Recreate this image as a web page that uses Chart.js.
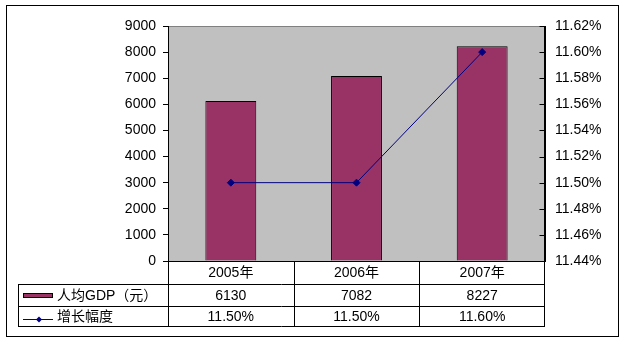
<!DOCTYPE html>
<html>
<head>
<meta charset="utf-8">
<script src="https://cdn.jsdelivr.net/npm/chart.js@4"></script>
<style>
  html, body { margin: 0; padding: 0; background: #fff; }
  #wrap { width: 625px; height: 343px; }
</style>
</head>
<body>
<div id="wrap"><canvas id="myChart" width="625" height="343"></canvas></div>
<script>
// per-capita GDP and its growth rate, 2005-2007
const years = ["2005年", "2006年", "2007年"];
const gdpValues = [6130, 7082, 8227];
const growthRates = [11.50, 11.50, 11.60];
const seriesNames = ["人均GDP（元）", "增长幅度"];

const FONT = "'Liberation Sans', 'Noto Sans CJK SC', sans-serif";
const FONT_SIZE = 14;
const barColor = "#993366";
const lineColor = "#000080";

// frame, grey plot area and the data table under the chart
const tablePlugin = {
    id: "tablePlugin",
    beforeDraw(chart) {
        const ctx = chart.ctx;
        const a = chart.chartArea;
        ctx.save();
        ctx.fillStyle = "#fff";
        ctx.fillRect(0, 0, chart.width, chart.height);
        ctx.strokeStyle = "#000";
        ctx.lineWidth = 1;
        ctx.strokeRect(6.5, 5.5, 612, 331);
        ctx.fillStyle = "#c0c0c0";
        ctx.fillRect(a.left, a.top, a.right - a.left, a.bottom - a.top);
        ctx.strokeStyle = "#808080";
        ctx.beginPath();
        ctx.moveTo(a.left, a.top + 0.5);
        ctx.lineTo(a.right, a.top + 0.5);
        ctx.stroke();
        ctx.restore();
    },
    afterDraw(chart) {
        const ctx = chart.ctx;
        const a = chart.chartArea;
        const xs = chart.scales.x;
        const y1 = chart.scales.y1;
        const colW = (a.right - a.left) / years.length;
        const rowTop = [Math.round(a.bottom), 284, 306];
        const rowBot = 326;
        const tableLeft = 18;
        const L = Math.round(a.left) + 0.5;
        const R = Math.round(a.right) - 0.5;

        ctx.save();
        ctx.strokeStyle = "#000";
        ctx.lineWidth = 1;

        // inner tick marks on the right axis
        y1.ticks.forEach((t) => {
            const py = Math.round(y1.getPixelForValue(t.value)) + 0.5;
            ctx.beginPath();
            ctx.moveTo(R - 5, py);
            ctx.lineTo(R, py);
            ctx.stroke();
        });

        ctx.beginPath();
        // horizontal rules
        ctx.moveTo(L, rowTop[0] + 0.5); ctx.lineTo(R, rowTop[0] + 0.5);
        ctx.moveTo(tableLeft + 0.5, rowTop[1] + 0.5); ctx.lineTo(R, rowTop[1] + 0.5);
        ctx.moveTo(tableLeft + 0.5, rowTop[2] + 0.5); ctx.lineTo(R, rowTop[2] + 0.5);
        ctx.moveTo(tableLeft + 0.5, rowBot + 0.5); ctx.lineTo(R, rowBot + 0.5);
        // verticals
        ctx.moveTo(tableLeft + 0.5, rowTop[1]); ctx.lineTo(tableLeft + 0.5, rowBot + 1);
        ctx.moveTo(L, a.bottom); ctx.lineTo(L, rowBot + 1);
        ctx.moveTo(R, a.top); ctx.lineTo(R, rowBot + 1);
        for (let i = 1; i < years.length; i++) {
            const vx = Math.round(a.left + colW * i) + 0.5;
            ctx.moveTo(vx, rowTop[0]); ctx.lineTo(vx, rowBot + 1);
        }
        ctx.stroke();

        // cell text
        ctx.fillStyle = "#000";
        ctx.font = FONT_SIZE + "px " + FONT;
        ctx.textAlign = "center";
        ctx.textBaseline = "middle";
        const rows = [
            years,
            gdpValues.map((v) => String(v)),
            growthRates.map((v) => v.toFixed(2) + "%")
        ];
        const mids = [(rowTop[0] + rowTop[1]) / 2 + 1, (rowTop[1] + rowTop[2]) / 2 + 1, (rowTop[2] + rowBot) / 2 + 1];
        rows.forEach((row, r) => {
            row.forEach((txt, i) => {
                ctx.fillText(txt, xs.getPixelForValue(i), mids[r]);
            });
        });

        // legend keys in the first column
        ctx.fillStyle = barColor;
        ctx.fillRect(23, 293, 30, 5);
        ctx.strokeStyle = "#000";
        ctx.strokeRect(23.5, 293.5, 29, 4);

        ctx.strokeStyle = lineColor;
        ctx.beginPath();
        ctx.moveTo(23, 319.5);
        ctx.lineTo(53, 319.5);
        ctx.stroke();
        ctx.fillStyle = lineColor;
        ctx.beginPath();
        ctx.moveTo(39, 316.5); ctx.lineTo(42, 319.5); ctx.lineTo(39, 322.5); ctx.lineTo(36, 319.5);
        ctx.closePath();
        ctx.fill();

        ctx.fillStyle = "#000";
        ctx.textAlign = "left";
        ctx.fillText(seriesNames[0], 57, mids[1]);
        ctx.fillText(seriesNames[1], 57, mids[2]);
        ctx.restore();
    }
};

const ctx = document.getElementById("myChart").getContext("2d");

new Chart(ctx, {
    type: "bar",
    data: {
        labels: years,
        datasets: [
            {
                type: "line",
                label: seriesNames[1],
                data: growthRates,
                yAxisID: "y1",
                borderColor: lineColor,
                backgroundColor: lineColor,
                borderWidth: 1,
                pointStyle: "rectRot",
                pointRadius: 3.5,
                pointBackgroundColor: lineColor,
                pointBorderColor: lineColor,
                tension: 0,
                order: 0
            },
            {
                type: "bar",
                label: seriesNames[0],
                data: gdpValues,
                yAxisID: "y",
                backgroundColor: barColor,
                borderColor: "#000",
                borderWidth: 1,
                barPercentage: 0.405,
                categoryPercentage: 1,
                order: 1
            }
        ]
    },
    options: {
        responsive: false,
        animation: false,
        layout: { padding: { left: 0, right: 0, top: 26, bottom: 82 } },
        plugins: {
            legend: { display: false },
            tooltip: { enabled: false }
        },
        scales: {
            x: {
                display: false,
                offset: true
            },
            y: {
                position: "left",
                min: 0,
                max: 9000,
                afterFit: (scale) => { scale.width = 168; },
                ticks: {
                    stepSize: 1000,
                    color: "#000",
                    padding: 7,
                    font: { family: FONT, size: FONT_SIZE },
                    callback: (v) => String(v)
                },
                grid: { drawOnChartArea: false, drawTicks: true, tickLength: 5, color: "#000" },
                border: { display: true, color: "#000" }
            },
            y1: {
                position: "right",
                min: 11.44,
                max: 11.62,
                afterFit: (scale) => { scale.width = 80; },
                ticks: {
                    stepSize: 0.02,
                    color: "#000",
                    padding: 10,
                    font: { family: FONT, size: FONT_SIZE },
                    callback: (v) => v.toFixed(2) + "%"
                },
                grid: { display: false, drawTicks: false },
                border: { display: true, color: "#000" }
            }
        }
    },
    plugins: [tablePlugin]
});
</script>
</body>
</html>
